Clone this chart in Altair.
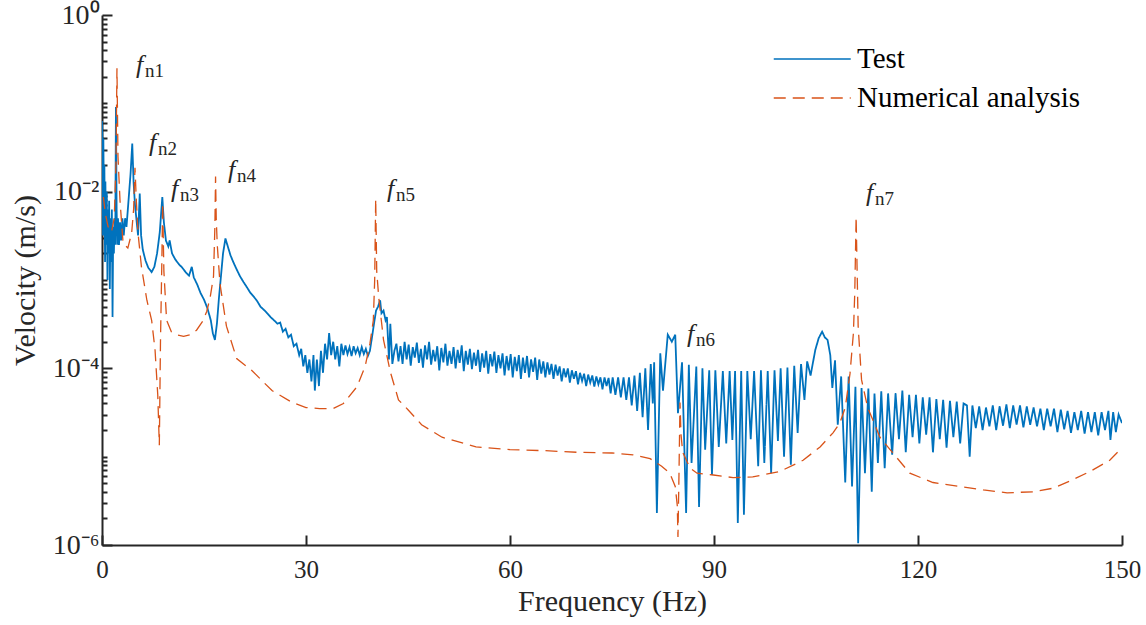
import altair as alt
import pandas as pd

# ---------------- data ----------------
test_freq = [
    0.0, 0.1, 0.15, 0.2, 0.3, 0.35, 0.45, 0.5, 0.6, 0.7, 0.8, 0.85, 0.95, 1.05, 1.15, 1.25,
    1.35, 1.45, 1.55, 1.65, 1.75, 1.85, 1.95, 2.05, 2.15, 2.25, 2.35, 2.5, 2.65, 2.8, 3.0, 3.2,
    3.4, 3.6, 3.8, 4.0, 4.2, 4.45, 4.65, 4.85, 5.05, 5.3, 5.55, 5.75, 6.0, 6.4, 6.8, 7.3,
    7.7, 8.1, 8.5, 8.87, 9.1, 9.4, 9.75, 9.95, 10.3, 10.8, 11.3, 11.8, 12.4, 12.8, 13.2, 13.5,
    14.0, 14.5, 15.0, 15.5, 16.0, 16.3, 16.6, 16.9, 17.2, 17.5, 17.8, 18.15, 18.5, 18.9, 19.3, 19.8,
    20.3, 20.8, 21.3, 21.8, 22.3, 22.8, 23.3, 23.8, 24.3, 24.8, 25.3, 25.8, 26.2, 26.6, 27.0, 27.4,
    27.8, 28.2, 28.6, 29.0, 29.3, 29.6, 29.9, 30.2, 30.5, 30.8, 31.1, 31.3, 31.6, 31.9, 32.2, 32.5,
    32.8, 33.1, 33.4, 33.7, 34.0, 34.3, 34.6, 34.9, 35.2, 35.5, 35.8, 36.1, 36.4, 36.7, 37.0, 37.3,
    37.6, 37.9, 38.2, 38.5, 38.8, 39.1, 39.4, 39.7, 40.0, 40.3, 40.6, 40.9, 41.1, 41.4, 41.7, 41.9,
    42.2, 42.4, 42.7, 43.0, 43.3, 43.6, 43.9, 44.2, 44.5, 44.8, 45.1, 45.4, 45.7, 46.0, 46.3, 46.6,
    46.9, 47.2, 47.5, 47.8, 48.1, 48.4, 48.7, 49.0, 49.3, 49.6, 49.9, 50.2, 50.5, 50.8, 51.1, 51.4,
    51.7, 52.0, 52.3, 52.6, 52.9, 53.2, 53.5, 53.8, 54.1, 54.4, 54.7, 55.0, 55.3, 55.6, 55.9, 56.2,
    56.5, 56.8, 57.1, 57.4, 57.7, 58.0, 58.3, 58.6, 58.9, 59.2, 59.5, 59.8, 60.1, 60.4, 60.7, 61.0,
    61.3, 61.6, 61.9, 62.2, 62.5, 62.8, 63.1, 63.4, 63.7, 64.0, 64.3, 64.6, 64.9, 65.2, 65.5, 65.8,
    66.1, 66.4, 66.7, 67.0, 67.3, 67.6, 67.9, 68.2, 68.5, 68.8, 69.1, 69.4, 69.7, 70.0, 70.3, 70.6,
    70.9, 71.2, 71.5, 71.8, 72.1, 72.4, 72.7, 73.0, 73.3, 73.6, 73.9, 74.2, 74.5, 74.8, 75.1, 75.5,
    75.9, 76.3, 76.7, 77.1, 77.5, 77.9, 78.3, 78.7, 79.1, 79.5, 79.9, 80.3, 80.7, 81.0, 81.2, 81.6,
    82.1, 82.5, 83.2, 83.8, 84.3, 84.7, 85.3, 85.9, 86.3, 86.7, 87.4, 87.8, 88.3, 88.7, 89.3, 89.7,
    90.2, 90.7, 91.3, 91.8, 92.3, 92.7, 93.1, 93.5, 94.0, 94.4, 94.9, 95.4, 95.9, 96.5, 96.9, 97.4,
    97.9, 98.4, 98.9, 99.4, 99.8, 100.3, 100.8, 101.3, 101.8, 102.3, 102.8, 103.3, 103.7, 104.2, 104.9, 105.4,
    105.9, 106.3, 106.7, 107.1, 107.4, 107.8, 108.2, 108.7, 109.3, 109.8, 110.3, 110.8, 111.2, 111.7, 112.2, 112.7,
    113.2, 113.6, 114.1, 114.6, 115.1, 115.6, 116.2, 116.7, 117.2, 117.7, 118.2, 118.7, 119.2, 119.7, 120.2, 120.7,
    121.2, 121.7, 122.2, 122.7, 123.2, 123.7, 124.2, 124.7, 125.2, 125.7, 126.2, 126.7, 127.2, 127.6, 128.0, 128.5,
    129.0, 129.5, 130.0, 130.5, 131.0, 131.5, 132.0, 132.5, 133.0, 133.5, 134.0, 134.5, 135.0, 135.5, 136.0, 136.5,
    137.0, 137.5, 138.0, 138.5, 139.0, 139.5, 140.0, 140.5, 141.0, 141.5, 142.0, 142.5, 143.0, 143.5, 144.0, 144.5,
    145.0, 145.5, 146.0, 146.5, 147.0, 147.5, 148.0, 148.3, 148.7, 149.1, 149.5, 150.0,
]
test_vel = [
    6.3e-2, 2.5e-2, 3.2e-3, 4.0e-2, 5.0e-3, 2.0e-2, 1.6e-3, 1.3e-2, 2.5e-3, 1.0e-2, 1.0e-3, 6.3e-3, 2.0e-3, 7.9e-3, 7.9e-4, 5.0e-3,
    1.6e-3, 6.3e-3, 3.8e-4, 4.0e-3, 2.0e-3, 5.0e-3, 2.5e-3, 9.1e-2, 6.3e-3, 2.5e-3, 5.0e-3, 2.5e-3, 4.5e-3, 2.8e-3, 5.0e-3, 3.2e-3,
    5.0e-3, 4.0e-3, 6.3e-3, 1.0e-2, 1.6e-2, 3.5e-2, 1.26e-2, 7.1e-3, 5.0e-3, 3.2e-3, 9.5e-3, 3.2e-3, 2.2e-3, 1.66e-3, 1.38e-3, 1.23e-3,
    1.41e-3, 2.0e-3, 3.5e-3, 8.7e-3, 4.5e-3, 2.8e-3, 2.4e-3, 2.8e-3, 2.0e-3, 1.7e-3, 1.51e-3, 1.38e-3, 1.2e-3, 1.12e-3, 1.41e-3, 1.07e-3,
    8.9e-4, 7.1e-4, 6.0e-4, 4.8e-4, 3.5e-4, 2.5e-4, 2.1e-4, 3.2e-4, 6.3e-4, 1.12e-3, 2.0e-3, 2.95e-3, 2.4e-3, 1.9e-3, 1.6e-3, 1.32e-3,
    1.1e-3, 9.5e-4, 8.3e-4, 7.2e-4, 6.5e-4, 5.8e-4, 5.0e-4, 4.6e-4, 4.2e-4, 3.8e-4, 3.5e-4, 3.2e-4, 3.3e-4, 2.6e-4, 2.8e-4, 2.24e-4,
    2.4e-4, 1.78e-4, 1.9e-4, 1.41e-4, 1.66e-4, 1.05e-4, 1.41e-4, 8.9e-5, 1.26e-4, 7.1e-5, 1.41e-4, 5.6e-5, 1.26e-4, 6.3e-5, 1.58e-4, 8.9e-5,
    1.9e-4, 1.26e-4, 2.5e-4, 1.41e-4, 2.0e-4, 1.26e-4, 1.78e-4, 1.05e-4, 1.9e-4, 1.41e-4, 1.82e-4, 1.45e-4, 1.74e-4, 1.38e-4, 1.78e-4, 1.48e-4,
    1.7e-4, 1.41e-4, 1.74e-4, 1.45e-4, 1.66e-4, 1.38e-4, 1.58e-4, 2.24e-4, 3.2e-4, 4.5e-4, 5.0e-4, 5.9e-4, 4.2e-4, 4.5e-4, 3.5e-4, 3.8e-4,
    1.26e-4, 3.2e-4, 1.12e-4, 1.58e-4, 1.9e-4, 1.2e-4, 1.78e-4, 1.12e-4, 2.0e-4, 1.26e-4, 1.86e-4, 1.07e-4, 1.74e-4, 1.32e-4, 1.95e-4, 1.15e-4,
    1.66e-4, 1.02e-4, 1.82e-4, 1.26e-4, 2.0e-4, 1.1e-4, 1.62e-4, 1.2e-4, 1.78e-4, 9.5e-5, 1.7e-4, 1.17e-4, 1.9e-4, 1.07e-4, 1.58e-4, 1.12e-4,
    1.74e-4, 1.0e-4, 1.62e-4, 1.15e-4, 1.82e-4, 9.3e-5, 1.58e-4, 1.1e-4, 1.66e-4, 9.8e-5, 1.51e-4, 1.07e-4, 1.62e-4, 9.1e-5, 1.48e-4, 1.02e-4,
    1.58e-4, 8.7e-5, 1.45e-4, 1.05e-4, 1.55e-4, 8.9e-5, 1.41e-4, 1.0e-4, 1.48e-4, 8.3e-5, 1.38e-4, 9.5e-5, 1.45e-4, 7.9e-5, 1.35e-4, 9.3e-5,
    1.41e-4, 7.6e-5, 1.32e-4, 8.9e-5, 1.38e-4, 7.9e-5, 1.26e-4, 9.1e-5, 1.32e-4, 7.4e-5, 1.26e-4, 8.7e-5, 1.2e-4, 7.9e-5, 1.17e-4, 8.5e-5,
    1.12e-4, 7.6e-5, 1.1e-4, 8.3e-5, 1.05e-4, 7.1e-5, 1.0e-4, 7.9e-5, 1.0e-4, 6.9e-5, 9.5e-5, 7.6e-5, 9.3e-5, 6.6e-5, 8.9e-5, 7.2e-5,
    8.7e-5, 6.3e-5, 8.5e-5, 6.9e-5, 8.3e-5, 6.2e-5, 8.1e-5, 6.6e-5, 7.9e-5, 5.8e-5, 7.9e-5, 6.3e-5, 7.8e-5, 5.2e-5, 7.9e-5, 5.0e-5,
    7.9e-5, 4.7e-5, 7.9e-5, 4.4e-5, 7.9e-5, 3.8e-5, 8.3e-5, 3.3e-5, 8.9e-5, 2.8e-5, 1.0e-4, 2.0e-5, 1.12e-4, 4.0e-5, 1.17e-4, 2.3e-6,
    1.48e-4, 5.6e-5, 2.4e-4, 2.0e-4, 2.4e-4, 3.1e-5, 1.17e-4, 2.3e-6, 1.1e-4, 8.5e-6, 1.05e-4, 2.7e-6, 1.0e-4, 1.2e-5, 9.5e-5, 6.2e-6,
    9.5e-5, 1.29e-5, 9.3e-5, 1.41e-5, 9.3e-5, 1.55e-5, 9.3e-5, 1.78e-6, 9.3e-5, 2.2e-6, 9.3e-5, 1.58e-5, 9.3e-5, 7.8e-6, 9.5e-5, 8.5e-6,
    9.3e-5, 6.5e-6, 9.5e-5, 1.51e-5, 1.0e-4, 1.0e-5, 1.02e-4, 8.1e-6, 1.07e-4, 1.86e-5, 1.12e-4, 4.4e-5, 1.2e-4, 8.3e-5, 1.62e-4, 2.2e-4,
    2.6e-4, 2.24e-4, 2.1e-4, 1.41e-4, 6.0e-5, 1.23e-4, 2.3e-5, 8.1e-5, 5.1e-6, 8.1e-5, 4.6e-6, 6.2e-5, 1.05e-6, 6.0e-5, 6.5e-6, 5.9e-5,
    4.0e-6, 5.2e-5, 8.5e-6, 5.5e-5, 7.4e-6, 5.2e-5, 1.05e-5, 5.2e-5, 1.58e-5, 5.6e-5, 1.12e-5, 5.0e-5, 1.66e-5, 5.0e-5, 1.41e-5, 4.7e-5,
    1.78e-5, 4.7e-5, 1.12e-5, 4.5e-5, 1.58e-5, 4.4e-5, 1.26e-5, 4.3e-5, 1.66e-5, 4.2e-5, 1.41e-5, 4.0e-5, 3.8e-5, 1.0e-5, 3.8e-5, 2.1e-5,
    3.7e-5, 2.0e-5, 3.6e-5, 2.2e-5, 3.8e-5, 2.0e-5, 3.7e-5, 2.24e-5, 3.9e-5, 2.1e-5, 3.8e-5, 2.3e-5, 3.8e-5, 2.14e-5, 3.7e-5, 2.3e-5,
    3.6e-5, 2.2e-5, 3.5e-5, 2.0e-5, 3.5e-5, 2.2e-5, 3.5e-5, 1.9e-5, 3.4e-5, 2.04e-5, 3.3e-5, 1.86e-5, 3.2e-5, 2.0e-5, 3.3e-5, 1.82e-5,
    3.2e-5, 1.9e-5, 3.2e-5, 1.74e-5, 3.2e-5, 2.0e-5, 3.3e-5, 1.55e-5, 3.2e-5, 1.9e-5, 3.0e-5, 2.4e-5,
]

num_freq = [
    0.2, 0.5, 0.9, 1.4, 1.8, 2.05, 2.2, 2.35, 2.65, 3.1, 3.8, 4.36, 4.65, 4.85, 5.05, 5.3,
    5.8, 6.6, 7.3, 7.8, 8.2, 8.43, 8.6, 8.8, 8.92, 9.1, 9.5, 10.2, 11.0, 12.0, 13.0, 13.9,
    14.8, 15.4, 15.9, 16.4, 16.6, 16.7, 16.8, 16.95, 17.35, 18.3, 19.8, 22.0, 25.0, 28.0, 30.0, 32.0,
    34.0, 35.5, 37.5, 38.7, 39.4, 39.9, 40.1, 40.25, 40.4, 40.7, 41.4, 42.4, 43.6, 45.0, 47.0, 50.0,
    55.0, 60.0, 65.0, 70.0, 75.0, 78.1, 80.6, 82.3, 83.5, 84.3, 84.6, 84.7, 84.85, 85.0, 85.15, 85.4,
    85.7, 86.5, 87.5, 89.9, 92.8, 95.7, 99.7, 103.1, 105.6, 107.5, 108.5, 109.3, 110.0, 110.5, 110.7, 110.9,
    111.2, 111.7, 112.6, 114.4, 116.3, 118.8, 122.2, 126.2, 129.6, 133.1, 136.9, 139.9, 142.8, 145.3, 148.2, 150.0,
]
num_vel = [
    8.7e-3, 5.6e-3, 4.0e-3, 3.5e-3, 5.0e-3, 2.0e-2, 2.5e-1, 2.5e-2, 7.9e-3, 2.6e-3, 2.3e-3, 3.4e-3, 6.3e-3, 1.86e-2, 7.9e-3, 3.4e-3,
    1.41e-3, 5.9e-4, 3.5e-4, 1.62e-4, 5.0e-5, 1.35e-5, 2.0e-4, 1.6e-3, 7.4e-3, 1.26e-3, 3.5e-4, 2.6e-4, 2.4e-4, 2.3e-4, 2.4e-4, 2.7e-4,
    3.4e-4, 4.4e-4, 6.3e-4, 1.1e-3, 4.0e-3, 1.48e-2, 5.0e-3, 2.5e-3, 9.1e-4, 3.0e-4, 1.29e-4, 9.5e-5, 5.6e-5, 4.1e-5, 3.6e-5, 3.5e-5,
    3.5e-5, 4.0e-5, 6.2e-5, 1.05e-4, 1.9e-4, 3.5e-4, 1.0e-3, 8.3e-3, 1.26e-3, 6.3e-4, 2.1e-4, 9.1e-5, 4.4e-5, 3.4e-5, 2.3e-5, 1.66e-5,
    1.29e-5, 1.2e-5, 1.17e-5, 1.12e-5, 1.1e-5, 1.05e-5, 9.5e-6, 7.8e-6, 6.5e-6, 4.6e-6, 2.8e-6, 1.23e-6, 6.3e-6, 4.1e-5, 1.78e-5, 1.12e-5,
    1.0e-5, 7.4e-6, 6.5e-6, 6.2e-6, 5.8e-6, 5.9e-6, 6.8e-6, 9.1e-6, 1.29e-5, 1.86e-5, 2.4e-5, 3.6e-5, 8.7e-5, 2.5e-4, 7.1e-4, 5.2e-3,
    3.0e-4, 7.4e-5, 3.6e-5, 1.66e-5, 1.1e-5, 6.5e-6, 5.1e-6, 4.6e-6, 4.2e-6, 3.9e-6, 4.0e-6, 4.4e-6, 5.5e-6, 6.8e-6, 9.1e-6, 1.26e-5,
]

ann_label = ["n1", "n2", "n3", "n4", "n5", "n6", "n7"]
ann_freq = [5.0, 6.91, 10.15, 18.53, 41.91, 86.03, 112.35]
ann_vel = [0.223, 0.0285, 0.00881, 0.01445, 0.00859, 2.01e-4, 0.00774]

series_names = ["Test", "Numerical analysis"]
series_colors = ["#0072BD", "#D95319"]
x_ticks = [0, 30, 60, 90, 120, 150]
y_major = [1.0, 1e-2, 1e-4, 1e-6]
y_minor = [k * 10.0 ** e for e in range(-6, 0) for k in range(1, 10) if not (k == 1 and e % 2 == 0)]

# ---------------- chart ----------------
W, H = 1020, 530
FONT = "Liberation Serif"
INK = "#262626"

df_test = pd.DataFrame({"f": test_freq, "v": test_vel, "series": "Test"})
df_num = pd.DataFrame({"f": num_freq, "v": num_vel, "series": "Numerical analysis"})
df_ann = pd.DataFrame({"f": ann_freq, "v": ann_vel, "label": ann_label})

x_scale = alt.Scale(domain=[0, 150], nice=False, zero=False)
y_scale = alt.Scale(type="log", domain=[1e-6, 1], nice=False)

# long legend line: custom path spanning four symbol radii
leg = alt.Legend(
    title=None, orient="none", legendX=671, legendY=24,
    symbolType="M-1,0H3", symbolSize=1482, symbolStrokeWidth=1.5,
    labelFont=FONT, labelFontSize=29, labelColor="#000000", labelOffset=44,
    labelLimit=500, rowPadding=4, padding=0,
)
color = alt.Color("series:N", scale=alt.Scale(domain=series_names, range=series_colors), legend=leg)
dash = alt.StrokeDash("series:N", scale=alt.Scale(domain=series_names, range=[[1, 0], [12, 7]]), legend=leg)

label_expr = ("datum.value > 0.5 ? '10\u2070' : datum.value > 0.005 ? '10\u207b\u00b2' : "
              "datum.value > 0.00005 ? '10\u207b\u2074' : '10\u207b\u2076'")

x_main = alt.Axis(values=x_ticks, ticks=False, domainWidth=2, domainColor=INK, grid=False,
                  labelFont=FONT, labelFontSize=25, labelColor=INK, labelPadding=12,
                  labelFlush=False, labelOverlap=False,
                  title="Frequency (Hz)", titleFont=FONT, titleFontSize=30,
                  titleFontWeight="normal", titleColor=INK, titlePadding=4)
y_main = alt.Axis(values=y_major, ticks=False, domainWidth=2, domainColor=INK, grid=False,
                  labelFont=FONT, labelFontSize=28, labelColor=INK, labelPadding=3,
                  labelOverlap=False, labelExpr=label_expr,
                  title="Velocity (m/s)", titleFont=FONT, titleFontSize=30,
                  titleFontWeight="normal", titleColor=INK, titlePadding=12)
x_ticks_in = alt.Axis(orient="top", offset=-H, values=x_ticks, labels=False, domain=False,
                      grid=False, ticks=True, tickSize=10, tickWidth=2, tickColor=INK, title=None)
y_major_in = alt.Axis(orient="right", offset=-W, values=y_major, labels=False, domain=False,
                      grid=False, ticks=True, tickSize=10, tickWidth=2, tickColor=INK, title=None)
y_minor_in = alt.Axis(orient="right", offset=-W, values=y_minor, labels=False, domain=False,
                      grid=False, ticks=True, tickSize=5, tickWidth=2, tickColor=INK, title=None)

test_line = alt.Chart(df_test).mark_line(strokeWidth=1.8, clip=True).encode(
    x=alt.X("f:Q", scale=x_scale, axis=x_main),
    y=alt.Y("v:Q", scale=y_scale, axis=y_main),
    color=color, strokeDash=dash,
)
num_line = alt.Chart(df_num).mark_line(strokeWidth=1.3, clip=True).encode(
    x=alt.X("f:Q", scale=x_scale, axis=x_ticks_in),
    y=alt.Y("v:Q", scale=y_scale, axis=y_major_in),
    color=color, strokeDash=dash,
)
f_text = alt.Chart(df_ann).mark_text(
    text="f", font=FONT, fontStyle="italic", fontSize=26, color=INK,
    align="left", baseline="alphabetic",
).encode(
    x=alt.X("f:Q", scale=x_scale, axis=None),
    y=alt.Y("v:Q", scale=y_scale, axis=y_minor_in),
)
sub_text = alt.Chart(df_ann).mark_text(
    font=FONT, fontSize=19, color=INK, align="left", baseline="alphabetic", dx=9, dy=4,
).encode(
    x=alt.X("f:Q", scale=x_scale, axis=None),
    y=alt.Y("v:Q", scale=y_scale, axis=None),
    text="label:N",
)

chart = (
    alt.layer(test_line, num_line, f_text, sub_text)
    .resolve_axis(x="independent", y="independent")
    .properties(width=W, height=H, autosize=alt.AutoSizeParams(type="none"),
                padding={"left": 102, "top": 15, "right": 24, "bottom": 80},
                background="#ffffff")
    .configure_view(stroke=None)
)

chart.save("out.html", embed_options={"renderer": "svg", "actions": False})
